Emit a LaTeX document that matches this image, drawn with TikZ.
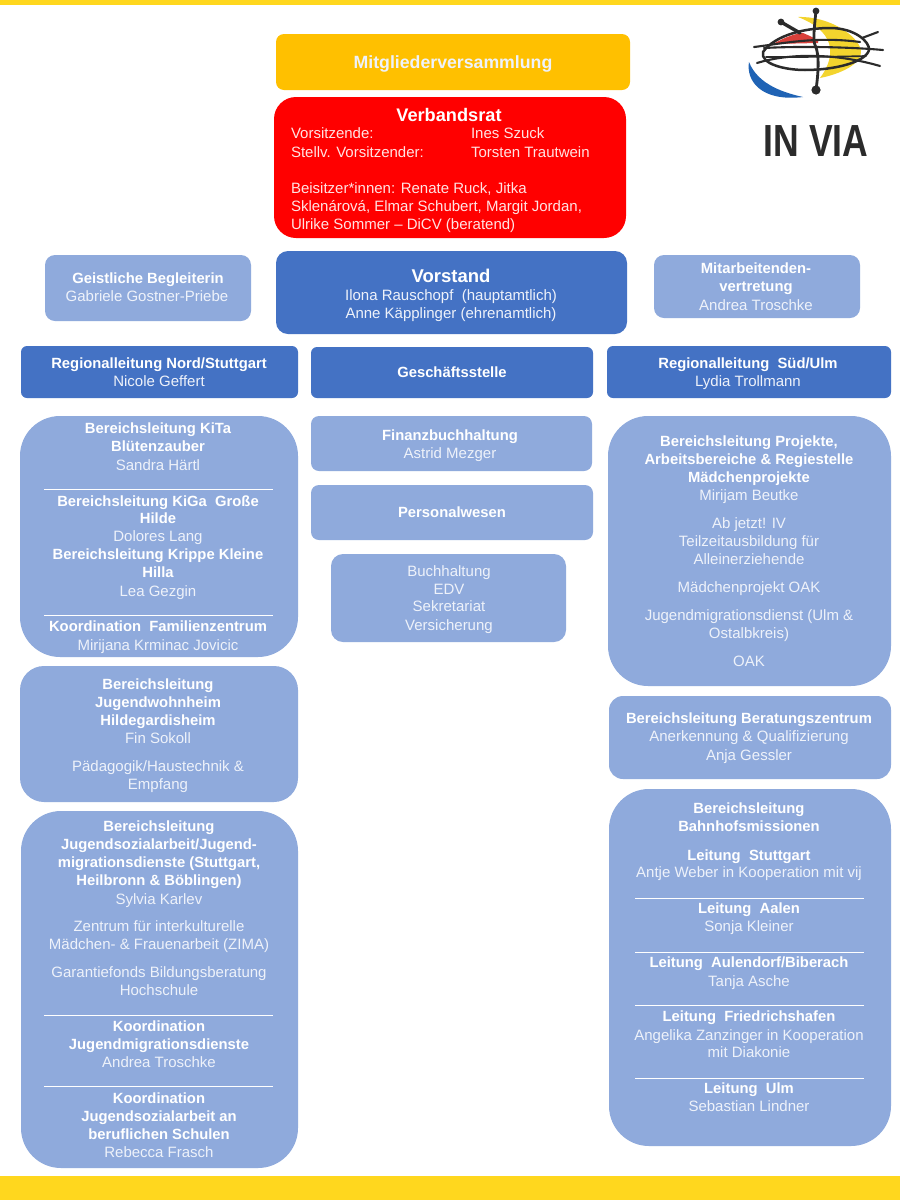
\documentclass[tikz,border=0pt]{standalone}
\usepackage{fontspec}
\setmainfont{Liberation Sans}
\definecolor{amber}{HTML}{FFC000}
\definecolor{stripe}{HTML}{FFD71E}
\definecolor{dkblue}{HTML}{4472C4}
\definecolor{ltblue}{HTML}{8FAADC}
\definecolor{soft}{HTML}{EEF2FA}
\definecolor{softred}{HTML}{FFE3E3}
\definecolor{logoink}{HTML}{2B2B2B}
\definecolor{logored}{HTML}{D9403A}
\definecolor{logoyel}{HTML}{F3D42E}
\definecolor{logoblue}{HTML}{1F63B5}
\newcounter{tn}
\tikzset{
  boxshape/.style={rectangle,inner sep=0pt,outer sep=0pt,draw=none},
  linetext/.style={inner sep=0pt,outer sep=0pt,text=soft,font=\fontsize{15}{15}\selectfont,anchor=base},
  headtext/.style={linetext,text=white,font=\fontsize{14.8}{15}\selectfont\bfseries},
  redtext/.style={linetext,text=softred,anchor=base west},
  rule/.style={white,line width=0.9pt},
  ink/.style={logoink,line cap=round,line join=round}
}
% name, x1,y1,x2,y2, radius, colour
\newcommand{\bx}[7]{%
  \pgfmathsetmacro{\cxx}{(#2+#4)/2}\pgfmathsetmacro{\cyy}{(#3+#5)/2}%
  \pgfmathsetmacro{\www}{#4-#2}\pgfmathsetmacro{\hhh}{#5-#3}%
  \node[boxshape,fill=#7,rounded corners=#6,minimum width=\www pt,minimum height=\hhh pt] (#1) at (\cxx,\cyy) {};}
\newcommand{\hl}[3]{\stepcounter{tn}\node[headtext] (t\thetn) at (#1,#2+5) {#3};}
\newcommand{\nl}[3]{\stepcounter{tn}\node[linetext] (t\thetn) at (#1,#2+5) {#3};}
\newcommand{\rl}[3]{\stepcounter{tn}\node[redtext] (t\thetn) at (#1,#2+5) {#3};}
\begin{document}
\begin{tikzpicture}[x=1pt,y=-1pt]
\useasboundingbox (0,0) rectangle (900,1200);
\fill[white] (0,0) rectangle (900,1200);
\fill[stripe] (0,0) rectangle (900,5);
\fill[stripe] (0,1176) rectangle (900,1200);

% boxes
\bx{mv}{276}{34}{630}{90}{8pt}{amber}
\bx{vr}{274}{97}{626}{238}{22pt}{red}
\bx{gb}{45}{255}{251}{321}{10pt}{ltblue}
\bx{vs}{276}{251}{627}{334}{12pt}{dkblue}
\bx{ma}{654}{255}{860}{318}{10pt}{ltblue}
\bx{rn}{21}{346}{298}{398}{6pt}{dkblue}
\bx{gs}{311}{347}{593}{398}{6pt}{dkblue}
\bx{rs}{607}{346}{891}{398}{6pt}{dkblue}
\bx{ki}{20}{416}{298}{657}{40pt}{ltblue}
\bx{jw}{20}{666}{298}{802}{24pt}{ltblue}
\bx{js}{21}{811}{298}{1168}{40pt}{ltblue}
\bx{fb}{311}{416}{592}{471}{8pt}{ltblue}
\bx{pw}{311}{485}{593}{540}{8pt}{ltblue}
\bx{bh}{331}{554}{566}{642}{12pt}{ltblue}
\bx{pr}{608}{416}{891}{686}{40pt}{ltblue}
\bx{bz}{609}{696}{891}{779}{14pt}{ltblue}
\bx{bm}{609}{789}{891}{1146}{40pt}{ltblue}

% dividers
\draw[rule] (44,489) -- (273,489);
\draw[rule] (44,615) -- (273,615);
\draw[rule] (44,1015) -- (273,1015);
\draw[rule] (44,1086) -- (273,1086);
\draw[rule] (635,898) -- (864,898);
\draw[rule] (635,952) -- (864,952);
\draw[rule] (635,1005) -- (864,1005);
\draw[rule] (635,1078) -- (864,1078);

% top
\node[headtext,font=\fontsize{17.7}{18}\selectfont\bfseries,text=soft] (tmv) at (453,68) {Mitgliederversammlung};
\node[headtext,font=\fontsize{18.2}{18}\selectfont\bfseries] (tvr) at (449,121) {Verbandsrat};
\rl{291}{133}{Vorsitzende:}
\rl{471}{133}{Ines Szuck}
\rl{291}{152}{Stellv. Vorsitzender:}
\rl{471}{152}{Torsten Trautwein}
\rl{291}{188}{Beisitzer*innen: Renate Ruck, Jitka}
\rl{291}{206}{Sklenárová, Elmar Schubert, Margit Jordan,}
\rl{291}{224}{Ulrike Sommer – DiCV (beratend)}

% row
\hl{148}{278}{Geistliche Begleiterin}
\nl{147}{296}{Gabriele Gostner-Priebe}
\node[headtext,font=\fontsize{18.5}{18}\selectfont\bfseries] (tvs) at (451,282.5) {Vorstand};
\nl{451}{295}{Ilona Rauschopf \ (hauptamtlich)}
\nl{451}{313}{Anne Käpplinger (ehrenamtlich)}
\hl{756}{268}{Mitarbeitenden-}
\hl{756}{286}{vertretung}
\nl{756}{305}{Andrea Troschke}

\hl{159}{363}{Regionalleitung Nord/Stuttgart}
\nl{159}{381}{Nicole Geffert}
\hl{452}{372}{Geschäftsstelle}
\hl{748}{363}{Regionalleitung \ Süd/Ulm}
\nl{748}{381}{Lydia Trollmann}

% left 1
\hl{158}{428}{Bereichsleitung KiTa}
\hl{158}{446}{Blütenzauber}
\nl{158}{465}{Sandra Härtl}
\hl{158}{501}{Bereichsleitung KiGa \ Große}
\hl{158}{518}{Hilde}
\nl{158}{536}{Dolores Lang}
\hl{158}{554}{Bereichsleitung Krippe Kleine}
\hl{158}{572}{Hilla}
\nl{158}{591}{Lea Gezgin}
\hl{158}{626}{Koordination \ Familienzentrum}
\nl{158}{645}{Mirijana Krminac Jovicic}

% left 2
\hl{158}{684}{Bereichsleitung}
\hl{158}{702}{Jugendwohnheim}
\hl{158}{720}{Hildegardisheim}
\nl{158}{738}{Fin Sokoll}
\nl{158}{766}{Pädagogik/Haustechnik \&}
\nl{158}{784}{Empfang}

% left 3
\hl{159}{826}{Bereichsleitung}
\hl{159}{844}{Jugendsozialarbeit/Jugend-}
\hl{159}{862}{migrationsdienste (Stuttgart,}
\hl{159}{880}{Heilbronn \& Böblingen)}
\nl{159}{899}{Sylvia Karlev}
\nl{159}{926}{Zentrum für interkulturelle}
\nl{159}{944}{Mädchen- \& Frauenarbeit (ZIMA)}
\nl{159}{972}{Garantiefonds Bildungsberatung}
\nl{159}{990}{Hochschule}
\hl{159}{1026}{Koordination}
\hl{159}{1044}{Jugendmigrationsdienste}
\nl{159}{1062}{Andrea Troschke}
\hl{159}{1098}{Koordination}
\hl{159}{1116}{Jugendsozialarbeit an}
\hl{159}{1134}{beruflichen Schulen}
\nl{159}{1152}{Rebecca Frasch}

% middle
\hl{450}{435}{Finanzbuchhaltung}
\nl{450}{453}{Astrid Mezger}
\hl{452}{512}{Personalwesen}
\nl{449}{571}{Buchhaltung}
\nl{449}{589}{EDV}
\nl{449}{606}{Sekretariat}
\nl{449}{625}{Versicherung}

% right 1
\hl{749}{441}{Bereichsleitung Projekte,}
\hl{749}{459}{Arbeitsbereiche \& Regiestelle}
\hl{749}{477}{Mädchenprojekte}
\nl{749}{495}{Mirijam Beutke}
\nl{749}{523}{Ab jetzt! IV}
\nl{749}{541}{Teilzeitausbildung für}
\nl{749}{559}{Alleinerziehende}
\nl{749}{587}{Mädchenprojekt OAK}
\nl{749}{615}{Jugendmigrationsdienst (Ulm \&}
\nl{749}{633}{Ostalbkreis)}
\nl{749}{661}{OAK}

% right 2
\hl{749}{718}{Bereichsleitung Beratungszentrum}
\nl{749}{736}{Anerkennung \& Qualifizierung}
\nl{749}{755}{Anja Gessler}

% right 3
\hl{749}{808}{Bereichsleitung}
\hl{749}{826}{Bahnhofsmissionen}
\hl{749}{855}{Leitung \ Stuttgart}
\nl{749}{872}{Antje Weber in Kooperation mit vij}
\hl{749}{908}{Leitung \ Aalen}
\nl{749}{926}{Sonja Kleiner}
\hl{749}{962}{Leitung \ Aulendorf/Biberach}
\nl{749}{981}{Tanja Asche}
\hl{749}{1016}{Leitung \ Friedrichshafen}
\nl{749}{1035}{Angelika Zanzinger in Kooperation}
\nl{749}{1052}{mit Diakonie}
\hl{749}{1088}{Leitung \ Ulm}
\nl{749}{1106}{Sebastian Lindner}

% logo
\fill[logoyel] (798,17) .. controls (830,16) and (858,36) .. (861,50) .. controls (863,64) and (840,74) .. (820,78) .. controls (832,62) and (842,34) .. (798,17) -- cycle;
\fill[logored] (773,44) .. controls (785,37) and (797,33) .. (803,33) .. controls (810,36) and (815,38) .. (818,41) -- (818,43) -- cycle;
\fill[logoblue] (749,62) .. controls (746,80) and (760,102) .. (803,97) .. controls (785,93) and (758,85) .. (749,62) -- cycle;
\draw[ink,line width=2.5pt] (763,52) .. controls (775,35) and (805,28) .. (830,28) .. controls (855,28) and (870,42) .. (869,50) .. controls (866,62) and (835,70) .. (805,70) .. controls (785,70) and (760,64) .. (763,52) -- cycle;
\draw[ink,line width=2.1pt] (754,47) .. controls (780,44) and (815,36) .. (860,42);
\draw[ink,line width=2.1pt] (764,48) .. controls (800,46) and (850,47) .. (883,50);
\draw[ink,line width=2.1pt] (757,63) .. controls (790,53) and (835,53) .. (880,66);
\draw[ink,line width=1.7pt] (766,57) .. controls (790,57) and (830,57) .. (866,56);
\draw[ink,line width=2.1pt] (862,38) -- (878,32);
\draw[ink,line width=3.4pt] (781,22) -- (800,33);
\draw[ink,line width=2.8pt] (816,11) .. controls (814,30) and (813,40) .. (815,45) .. controls (820,55) and (818,75) .. (816,90);
\fill[logoink] (816,11) circle (3.4);
\fill[logoink] (816,90) circle (4.6);
\fill[logoink] (781,22) circle (3.4);
\node[ink,font=\fontsize{45}{45}\selectfont\bfseries,inner sep=0pt,outer sep=0pt,xscale=0.79,anchor=base] (logotext) at (816,156) {IN VIA};
\end{tikzpicture}
\end{document}
